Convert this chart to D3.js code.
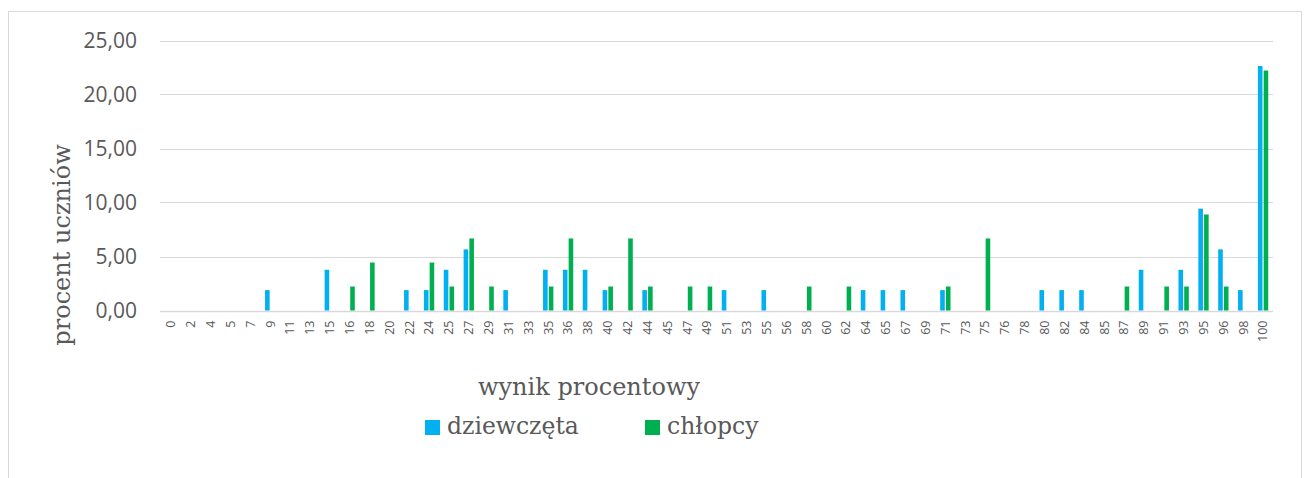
<!DOCTYPE html>
<html>
<head>
<meta charset="utf-8">
<script src="https://cdn.jsdelivr.net/npm/d3@7"></script>
<style>
  body { margin: 0; background: #fff; }
  svg { display: block; }
  .tick-y { font-family: 'Open Sans', 'Noto Sans', sans-serif; font-size: 21px; fill: #595959; }
  .tick-x { font-family: 'Open Sans', 'Noto Sans', sans-serif; font-size: 12.5px; fill: #595959; }
  .axis-title { font-family: 'DejaVu Serif', serif; font-size: 24px; fill: #595959; }
  .legend-label { font-family: 'DejaVu Serif', serif; font-size: 23.5px; fill: #595959; }
</style>
</head>
<body>
<div id="chart"></div>
<script>
var WIDTH = 1308
var HEIGHT = 478

// wynik procentowy (kategorie osi X)
var categories = [0, 2, 4, 5, 7, 9, 11, 13, 15, 16, 18, 20, 22, 24, 25, 27, 29, 31, 33, 35,
    36, 38, 40, 42, 44, 45, 47, 49, 51, 53, 55, 56, 58, 60, 62, 64, 65, 67, 69, 71,
    73, 75, 76, 78, 80, 82, 84, 85, 87, 89, 91, 93, 95, 96, 98, 100]

// procent uczniów
var dziewczeta = [0, 0, 0, 0, 0, 1.89, 0, 0, 3.77, 0, 0, 0, 1.89, 1.89, 3.77, 5.66, 0, 1.89, 0, 3.77,
    3.77, 3.77, 1.89, 0, 1.89, 0, 0, 0, 1.89, 0, 1.89, 0, 0, 0, 0, 1.89, 1.89, 1.89, 0, 1.89,
    0, 0, 0, 0, 1.89, 1.89, 1.89, 0, 0, 3.77, 0, 3.77, 9.43, 5.66, 1.89, 22.64]

var chlopcy = [0, 0, 0, 0, 0, 0, 0, 0, 0, 2.22, 4.44, 0, 0, 4.44, 2.22, 6.67, 2.22, 0, 0, 2.22,
    6.67, 0, 2.22, 6.67, 2.22, 0, 2.22, 2.22, 0, 0, 0, 0, 2.22, 0, 2.22, 0, 0, 0, 0, 2.22,
    0, 6.67, 0, 0, 0, 0, 0, 0, 2.22, 0, 2.22, 2.22, 8.89, 2.22, 0, 22.22]

var seriesNames = ['dziewczęta', 'chłopcy']
var seriesColors = ['#00B0F0', '#00B050']
var yTicks = [0, 5, 10, 15, 20, 25]

var svg = d3.select('#chart')
    .append('svg')
    .attr('width', WIDTH)
    .attr('height', HEIGHT)

// ramka wykresu
svg.append('rect')
    .attr('x', 8.5)
    .attr('y', 11.5)
    .attr('width', 1293)
    .attr('height', 480)
    .attr('fill', 'none')
    .attr('stroke', '#d9d9d9')

var x = d3.scaleBand()
    .domain(categories)
    .range([161, 1273])
    .paddingInner(0.48)
    .paddingOuter(0.24)

var xs = d3.scaleBand()
    .domain(seriesNames)
    .range([0, x.bandwidth()])
    .paddingInner(0.2)

var y = d3.scaleLinear()
    .domain([0, 25])
    .range([310.5, 40.5])

var fmt = d3.formatLocale({ decimal: ',', thousands: ' ', grouping: [3], currency: ['', ' zł'] }).format('.2f')

// linie siatki
svg.append('g')
    .selectAll('line')
    .data(yTicks)
    .enter().append('line')
    .attr('x1', 160)
    .attr('x2', 1273)
    .attr('y1', function (d) { return Math.round(y(d)) + 0.5 })
    .attr('y2', function (d) { return Math.round(y(d)) + 0.5 })
    .attr('stroke', '#d9d9d9')
    .attr('stroke-width', function (d) { return d === 0 ? 1.5 : 1.2 })

svg.append('g')
    .selectAll('text')
    .data(yTicks)
    .enter().append('text')
    .attr('class', 'tick-y')
    .attr('x', 137)
    .attr('y', function (d) { return y(d) })
    .attr('dy', '0.36em')
    .attr('text-anchor', 'end')
    .text(function (d) { return fmt(d) })

var rows = categories.map(function (c, i) {
    return { cat: c, values: [dziewczeta[i], chlopcy[i]] }
})

var groups = svg.append('g')
    .selectAll('g')
    .data(rows)
    .enter().append('g')
    .attr('transform', function (d) { return 'translate(' + x(d.cat) + ',0)' })

groups.selectAll('rect')
    .data(function (d) {
        return d.values.map(function (v, j) { return { name: seriesNames[j], color: seriesColors[j], value: v } })
    })
    .enter().append('rect')
    .filter(function (d) { return d.value > 0 })
    .attr('x', function (d) { return xs(d.name) })
    .attr('width', xs.bandwidth())
    .attr('y', function (d) { return y(d.value) })
    .attr('height', function (d) { return y(0) - y(d.value) })
    .attr('fill', function (d) { return d.color })

// etykiety osi X
svg.append('g')
    .selectAll('text')
    .data(categories)
    .enter().append('text')
    .attr('class', 'tick-x')
    .attr('text-anchor', 'end')
    .attr('dy', '0.35em')
    .attr('transform', function (d) {
        return 'translate(' + (x(d) + x.bandwidth() / 2) + ',320.5) rotate(-90)'
    })
    .text(function (d) { return d })

svg.append('text')
    .attr('class', 'axis-title')
    .attr('transform', 'translate(70,245) rotate(-90)')
    .attr('text-anchor', 'middle')
    .text('procent uczniów')

svg.append('text')
    .attr('class', 'axis-title')
    .attr('x', 589)
    .attr('y', 395)
    .attr('text-anchor', 'middle')
    .text('wynik procentowy')

// legenda
var legendX = [425, 645]
var legend = svg.append('g')
    .selectAll('g')
    .data(seriesNames)
    .enter().append('g')
    .attr('transform', function (d, i) { return 'translate(' + legendX[i] + ',420)' })

legend.append('rect')
    .attr('width', 15)
    .attr('height', 15)
    .attr('fill', function (d, i) { return seriesColors[i] })

legend.append('text')
    .attr('class', 'legend-label')
    .attr('x', 22)
    .attr('y', 14)
    .text(function (d) { return d })
</script>
</body>
</html>
